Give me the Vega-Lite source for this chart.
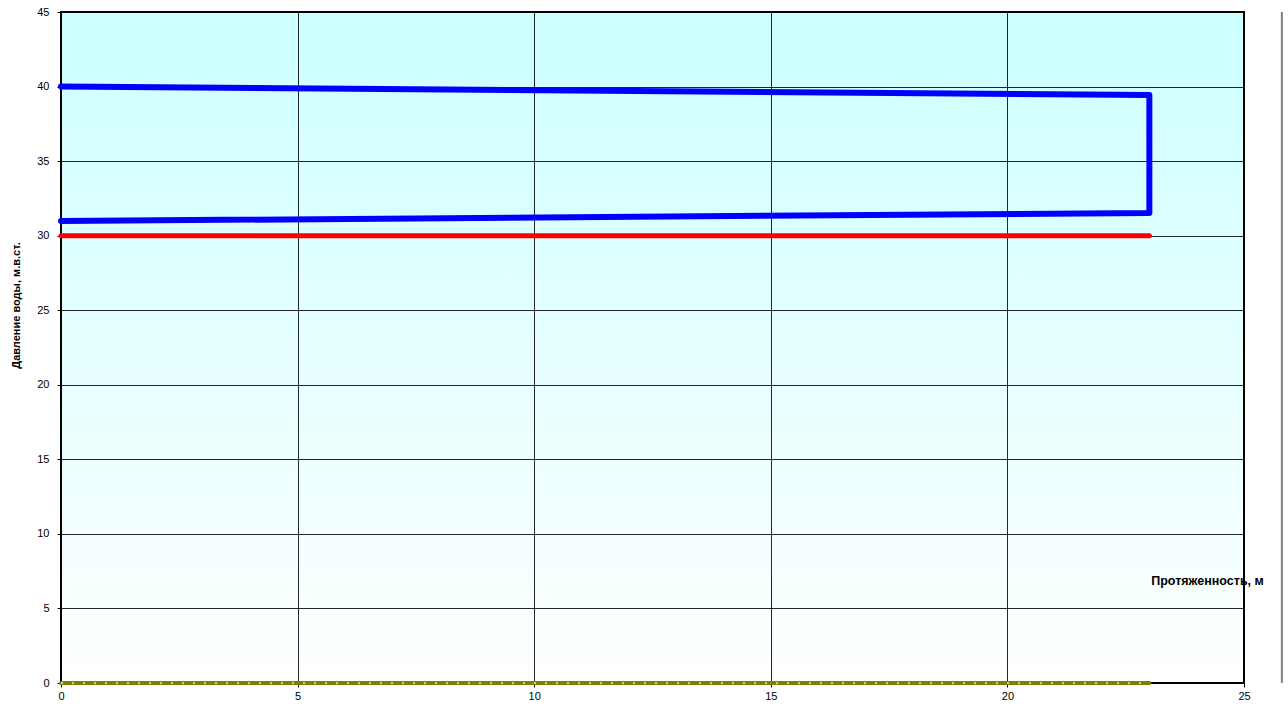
{
  "$schema": "https://vega.github.io/schema/vega-lite/v6.json",
  "width": 1183,
  "height": 671,
  "autosize": "none",
  "padding": {"left": 61, "top": 12, "right": 44, "bottom": 23},
  "background": "white",
  "config": {
    "font": "Liberation Sans",
    "view": {
      "stroke": "#000000",
      "strokeWidth": 2,
      "fill": {"gradient": "linear", "x1": 0, "y1": 0, "x2": 0, "y2": 1,
        "stops": [{"offset": 0, "color": "#ccffff"}, {"offset": 1, "color": "#ffffff"}]}
    },
    "axis": {
      "grid": true,
      "gridColor": "#000000",
      "gridOpacity": 0.85,
      "gridWidth": 1,
      "domain": false,
      "tickColor": "#000000",
      "tickSize": 4,
      "labelFont": "Liberation Sans",
      "labelFontSize": 11,
      "labelColor": "#000000",
      "labelFlush": false,
      "titleFont": "Liberation Sans",
      "titleFontSize": 11,
      "titleFontWeight": "bold",
      "titleColor": "#000000"
    }
  },
  "data": {
    "values": [
      {"series": "supply", "order": 1, "x": 0, "y": 40.0},
      {"series": "supply", "order": 2, "x": 23, "y": 39.43},
      {"series": "supply", "order": 3, "x": 23, "y": 31.52},
      {"series": "supply", "order": 4, "x": 0, "y": 30.98},
      {"series": "static", "order": 1, "x": 0, "y": 30},
      {"series": "static", "order": 2, "x": 23, "y": 30},
      {"series": "ground", "order": 1, "x": 0, "y": 0},
      {"series": "ground", "order": 2, "x": 23, "y": 0}
    ]
  },
  "layer": [
    {
      "transform": [{"filter": "datum.series === 'supply'"}],
      "mark": {"type": "line", "color": "#0000ff", "strokeWidth": 6, "strokeCap": "round", "strokeJoin": "round", "clip": false},
      "encoding": {
        "x": {
          "field": "x", "type": "quantitative",
          "scale": {"domain": [0, 25], "nice": false, "zero": false},
          "axis": {"values": [0, 5, 10, 15, 20, 25], "title": "Протяженность, м",
            "titleFontSize": 12.5,
            "titleX": 1146, "titleY": -103, "titleAlign": "center", "titleBaseline": "middle",
            "labelPadding": 3}
        },
        "y": {
          "field": "y", "type": "quantitative",
          "scale": {"domain": [0, 45], "nice": false},
          "axis": {"values": [0, 5, 10, 15, 20, 25, 30, 35, 40, 45], "title": "Давление воды, м.в.ст.",
            "titleX": -45, "titleY": 293, "titleAngle": -90, "titleAlign": "center", "titleBaseline": "middle",
            "labelPadding": 8}
        },
        "order": {"field": "order", "type": "quantitative"}
      }
    },
    {
      "transform": [{"filter": "datum.series === 'static'"}],
      "mark": {"type": "line", "color": "#ff0000", "strokeWidth": 5, "strokeCap": "round", "clip": false},
      "encoding": {
        "x": {"field": "x", "type": "quantitative"},
        "y": {"field": "y", "type": "quantitative"},
        "order": {"field": "order", "type": "quantitative"}
      }
    },
    {
      "transform": [{"filter": "datum.series === 'ground'"}],
      "mark": {"type": "line", "color": "#808000", "strokeWidth": 4, "strokeCap": "round", "clip": false},
      "encoding": {
        "x": {"field": "x", "type": "quantitative"},
        "y": {"field": "y", "type": "quantitative"},
        "order": {"field": "order", "type": "quantitative"}
      }
    },
    {
      "transform": [{"filter": "datum.series === 'ground'"}],
      "mark": {"type": "line", "color": "#ffffff", "strokeWidth": 1.5, "strokeDash": [2, 9], "opacity": 0.8, "clip": false},
      "encoding": {
        "x": {"field": "x", "type": "quantitative"},
        "y": {"field": "y", "type": "quantitative"},
        "order": {"field": "order", "type": "quantitative"}
      }
    },
    {
      "data": {"values": [{"x": 25.8}]},
      "mark": {"type": "rule", "color": "#808080", "strokeWidth": 2, "clip": false},
      "encoding": {
        "x": {"field": "x", "type": "quantitative"}
      }
    }
  ]
}
